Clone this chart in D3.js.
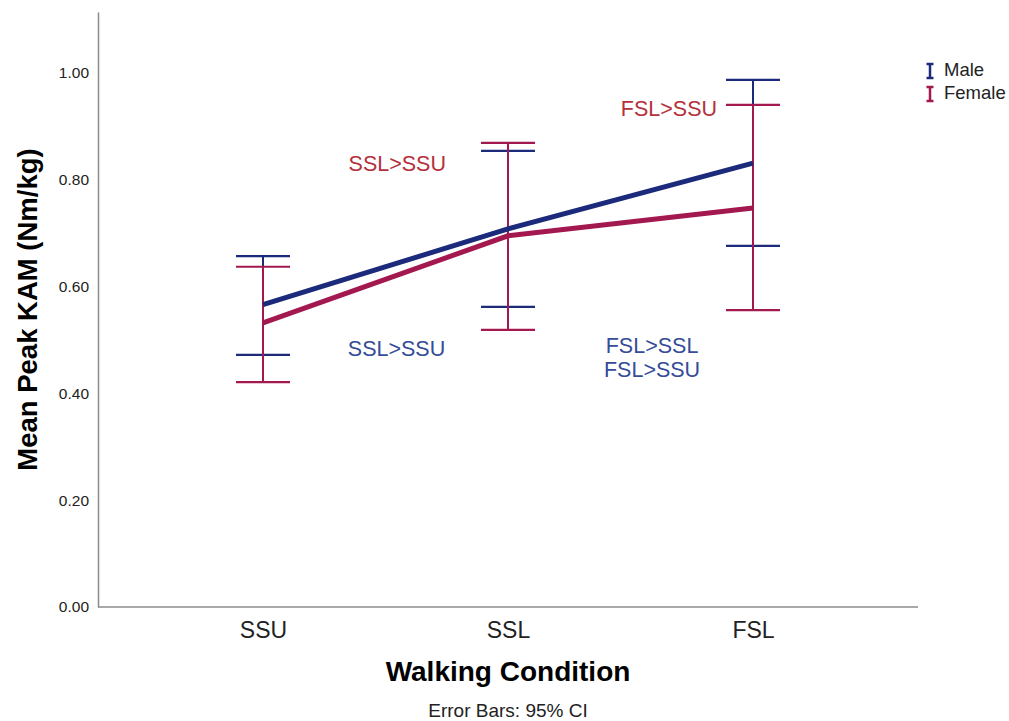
<!DOCTYPE html>
<html>
<head>
<meta charset="utf-8">
<script src="https://cdn.jsdelivr.net/npm/d3@7"></script>
<style>
  html, body { margin: 0; padding: 0; background: #fff; }
  svg { display: block; font-family: "Liberation Sans", Arial, sans-serif; }
</style>
</head>
<body>
<svg id="chart" width="1009" height="721"></svg>
<script>
// Walking conditions on the x axis
const conditions = ["SSU", "SSL", "FSL"];

// Mean peak KAM (Nm/kg) with 95% CI bounds per sex
const maleMean  = [0.566, 0.708, 0.831];
const maleLow   = [0.472, 0.562, 0.676];
const maleHigh  = [0.657, 0.854, 0.987];

const femaleMean = [0.532, 0.695, 0.747];
const femaleLow  = [0.421, 0.519, 0.556];
const femaleHigh = [0.637, 0.869, 0.940];

const yTicks = [0, 0.2, 0.4, 0.6, 0.8, 1.0];

// Significance annotations placed between two conditions
const annotations = [
  { text: "SSL>SSU", between: ["SSU", "SSL"], value: 0.826, group: "female", shift: 0.548 },
  { text: "FSL>SSU", between: ["SSL", "FSL"], value: 0.929, group: "female", shift: 0.657 },
  { text: "SSL>SSU", between: ["SSU", "SSL"], value: 0.481, group: "male", shift: 0.545 },
  { text: "FSL>SSL", between: ["SSL", "FSL"], value: 0.4868, group: "male", shift: 0.588 },
  { text: "FSL>SSU", between: ["SSL", "FSL"], value: 0.4419, group: "male", shift: 0.588 }
];

const colors = { male: "#1b2a7a", female: "#a2184f" };
const textColors = { male: "#354c99", female: "#b5303b" };

const svg = d3.select("#chart");
const plotLeft = 98, plotRight = 918, plotTop = 12, plotBottom = 607;

const x = d3.scalePoint().domain(conditions).range([plotLeft, plotRight]).padding(0.6735);
const y = d3.scaleLinear().domain([0, 1.114]).range([plotBottom, plotTop]);

// Axes (lines only, no tick marks)
const yAxis = svg.append("g").attr("transform", `translate(${plotLeft},0)`)
  .call(d3.axisLeft(y).tickValues(yTicks).tickFormat(d3.format(".2f")).tickSize(0).tickPadding(9));
yAxis.select(".domain").attr("stroke", "#8c8c8c").attr("stroke-width", 1.5);
yAxis.selectAll("text").attr("font-size", 15.5).attr("fill", "#222");

const xAxis = svg.append("g").attr("transform", `translate(0,${plotBottom})`)
  .call(d3.axisBottom(x).tickSize(0).tickPadding(15));
xAxis.select(".domain").attr("stroke", "#8c8c8c").attr("stroke-width", 1.5)
  .attr("d", `M${plotLeft},0H${plotRight}`);
xAxis.selectAll("text").attr("font-size", 23).attr("fill", "#222");

// Axis titles
svg.append("text")
  .attr("transform", `translate(37,${(plotTop + plotBottom) / 2}) rotate(-90)`)
  .attr("text-anchor", "middle")
  .attr("font-size", 27.5).attr("font-weight", "bold").attr("fill", "#000")
  .text("Mean Peak KAM (Nm/kg)");

svg.append("text")
  .attr("x", x("SSL")).attr("y", 681)
  .attr("text-anchor", "middle")
  .attr("font-size", 28).attr("font-weight", "bold").attr("fill", "#000")
  .text("Walking Condition");

svg.append("text")
  .attr("x", x("SSL")).attr("y", 717)
  .attr("text-anchor", "middle")
  .attr("font-size", 19).attr("fill", "#222")
  .text("Error Bars: 95% CI");

const capHalf = 27;

function drawErrorBars(low, high, color) {
  const g = svg.append("g");
  conditions.forEach((c, i) => {
    const cx = x(c);
    g.append("line").attr("x1", cx).attr("x2", cx)
      .attr("y1", y(low[i])).attr("y2", y(high[i]))
      .attr("stroke", color).attr("stroke-width", 2);
    [low[i], high[i]].forEach(v => {
      g.append("line").attr("x1", cx - capHalf).attr("x2", cx + capHalf)
        .attr("y1", y(v)).attr("y2", y(v))
        .attr("stroke", color).attr("stroke-width", 2.2);
    });
  });
}

function drawLine(mean, color) {
  svg.append("path")
    .datum(mean)
    .attr("fill", "none")
    .attr("stroke", color)
    .attr("stroke-width", 5)
    .attr("d", d3.line().x((d, i) => x(conditions[i])).y(d => y(d)));
}

// Error bars first (female drawn over male), then mean lines
drawErrorBars(maleLow, maleHigh, colors.male);
drawErrorBars(femaleLow, femaleHigh, colors.female);
drawLine(maleMean, colors.male);
drawLine(femaleMean, colors.female);

// Significance labels
annotations.forEach(a => {
  const x0 = x(a.between[0]), x1 = x(a.between[1]);
  svg.append("text")
    .attr("x", x0 + (x1 - x0) * a.shift)
    .attr("y", y(a.value))
    .attr("text-anchor", "middle")
    .attr("dominant-baseline", "middle")
    .attr("font-size", 21.5)
    .attr("fill", textColors[a.group])
    .text(a.text);
});

// Legend
const legend = svg.append("g").attr("transform", "translate(930,71)");
[["Male", colors.male], ["Female", colors.female]].forEach(([name, col], i) => {
  const g = legend.append("g").attr("transform", `translate(0,${i * 23})`);
  g.append("line").attr("x1", 0).attr("x2", 0).attr("y1", -7).attr("y2", 7).attr("stroke", col).attr("stroke-width", 2.5);
  g.append("line").attr("x1", -3.5).attr("x2", 3.5).attr("y1", -7).attr("y2", -7).attr("stroke", col).attr("stroke-width", 2.5);
  g.append("line").attr("x1", -3.5).attr("x2", 3.5).attr("y1", 7).attr("y2", 7).attr("stroke", col).attr("stroke-width", 2.5);
  g.append("text").attr("x", 14).attr("y", 0).attr("dominant-baseline", "middle")
    .attr("font-size", 18.5).attr("fill", "#222").text(name);
});
</script>
</body>
</html>
